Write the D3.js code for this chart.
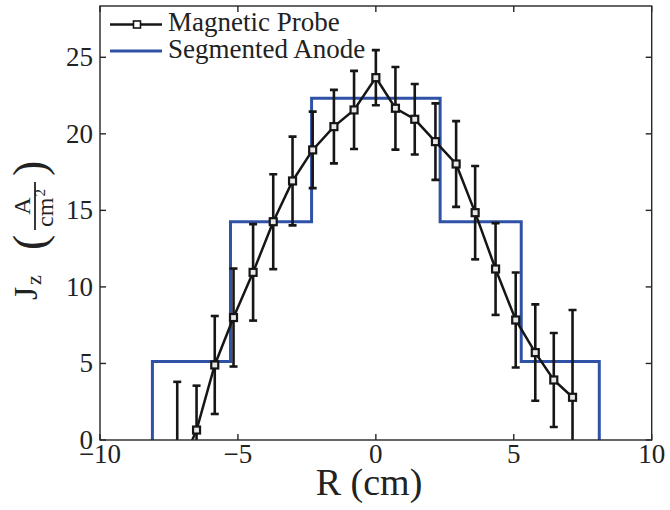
<!DOCTYPE html>
<html>
  <head>
    <meta charset="utf-8">
    <title>Jz profile</title>
    <script src="https://d3js.org/d3.v7.min.js"></script>
    <style>
      body { margin: 0; background: #fff; }
      text { font-family: "Liberation Serif", "DejaVu Serif", serif; fill: #222; }
    </style>
  </head>
  <body>
  <div id="chart"></div>
  <script>
    // magnetic probe readings
    var probeR = [-7.2, -6.5, -5.84, -5.16, -4.45, -3.72, -3.02, -2.29, -1.52, -0.79, 0,
                  0.71, 1.41, 2.16, 2.91, 3.6, 4.34, 5.07, 5.78, 6.45, 7.13];
    var probeJ = [-2.3, 0.65, 4.9, 8.0, 10.95, 14.26, 16.92, 18.95, 20.47, 21.56, 23.67,
                  21.67, 20.95, 19.49, 18.03, 14.85, 11.17, 7.84, 5.71, 3.92, 2.79];
    var probeErr = [6.1, 2.9, 3.2, 3.2, 3.15, 3.1, 2.9, 2.5, 2.4, 2.55, 1.8,
                    2.7, 2.3, 2.5, 2.8, 3.05, 3.0, 3.1, 3.15, 3.07, 5.7];

    // segmented anode: segment edges and level per segment
    var anodeEdges = [-8.1, -5.27, -2.33, 2.33, 5.27, 8.1];
    var anodeJ = [5.12, 14.26, 22.32, 14.26, 5.12];

    var xTicks = [-10, -5, 0, 5, 10];
    var yTicks = [0, 5, 10, 15, 20, 25];
    var legendLabels = ["Magnetic Probe", "Segmented Anode"];

    var W = 670, H = 510;
    var pl = 100, pr = 651.7, pt = 6, pb = 440;
    var blue = "#2f51a6";

    var svg = d3.select("#chart").append("svg")
                .attr("width", W).attr("height", H);

    var x = d3.scaleLinear().domain([-10, 10]).range([pl, pr]);
    var y = d3.scaleLinear().domain([0, 28.35]).range([pb, pt]);

    svg.append("clipPath").attr("id", "clip")
       .append("rect")
         .attr("x", pl).attr("y", pt)
         .attr("width", pr - pl).attr("height", pb - pt);

    var plot = svg.append("g").attr("clip-path", "url(#clip)");

    // anode step line
    var steps = [[anodeEdges[0], 0]];
    anodeJ.forEach(function (v, i) {
      steps.push([anodeEdges[i], v]);
      steps.push([anodeEdges[i + 1], v]);
    });
    steps.push([anodeEdges[anodeEdges.length - 1], 0]);
    plot.append("path")
        .attr("d", d3.line().x(function (d) { return x(d[0]); }).y(function (d) { return y(d[1]); })(steps))
        .attr("fill", "none")
        .attr("stroke", blue)
        .attr("stroke-width", 3);

    // probe error bars
    var probe = probeR.map(function (r, i) { return {r: r, j: probeJ[i], e: probeErr[i]}; });
    var bars = plot.append("g").attr("stroke", "#161616").attr("stroke-width", 2.6);
    probe.forEach(function (d) {
      var px = x(d.r), y0 = y(d.j - d.e), y1 = y(d.j + d.e);
      bars.append("line").attr("x1", px).attr("x2", px).attr("y1", y0).attr("y2", y1);
      bars.append("line").attr("x1", px - 4).attr("x2", px + 4).attr("y1", y0).attr("y2", y0);
      bars.append("line").attr("x1", px - 4).attr("x2", px + 4).attr("y1", y1).attr("y2", y1);
    });

    plot.append("path")
        .attr("d", d3.line().x(function (d) { return x(d.r); }).y(function (d) { return y(d.j); })(probe))
        .attr("fill", "none")
        .attr("stroke", "#161616")
        .attr("stroke-width", 2.5);

    plot.selectAll("rect.mk").data(probe).enter().append("rect")
        .attr("class", "mk")
        .attr("x", function (d) { return x(d.r) - 3.5; })
        .attr("y", function (d) { return y(d.j) - 3.5; })
        .attr("width", 7).attr("height", 7)
        .attr("fill", "#e8e8e8")
        .attr("stroke", "#161616")
        .attr("stroke-width", 2.2);

    // axes box with inward ticks on all sides
    var axes = svg.append("g").attr("stroke", "#262626").attr("stroke-width", 1.4);
    axes.append("rect")
        .attr("x", pl).attr("y", pt)
        .attr("width", pr - pl).attr("height", pb - pt)
        .attr("fill", "none");
    xTicks.forEach(function (t) {
      axes.append("line").attr("x1", x(t)).attr("x2", x(t)).attr("y1", pb).attr("y2", pb - 6);
      axes.append("line").attr("x1", x(t)).attr("x2", x(t)).attr("y1", pt).attr("y2", pt + 6);
    });
    yTicks.forEach(function (t) {
      axes.append("line").attr("x1", pl).attr("x2", pl + 6).attr("y1", y(t)).attr("y2", y(t));
      axes.append("line").attr("x1", pr).attr("x2", pr - 6).attr("y1", y(t)).attr("y2", y(t));
    });

    svg.selectAll("text.xt").data(xTicks).enter().append("text")
       .attr("class", "xt")
       .attr("x", function (d) { return x(d); })
       .attr("y", 463)
       .attr("text-anchor", "middle")
       .style("font-size", "27px")
       .text(function (d) { return d < 0 ? "\u2212" + Math.abs(d) : d; });

    svg.selectAll("text.yt").data(yTicks).enter().append("text")
       .attr("class", "yt")
       .attr("x", 93)
       .attr("y", function (d) { return y(d) + 9; })
       .attr("text-anchor", "end")
       .style("font-size", "27px")
       .text(function (d) { return d; });

    // x label
    svg.append("text")
       .attr("x", 369).attr("y", 495)
       .attr("text-anchor", "middle")
       .style("font-size", "38px")
       .text("R (cm)");

    // y label: J_z (A / cm^2), rotated
    var yl = svg.append("g").attr("transform", "translate(37, 300) rotate(-90)");
    yl.append("text").attr("x", 0).attr("y", 0).style("font-size", "34px").text("J");
    yl.append("text").attr("x", 15).attr("y", 4).style("font-size", "22px").text("z");
    yl.append("text").attr("x", 50).attr("y", 8).style("font-size", "46px").text("(");
    yl.append("text").attr("x", 124).attr("y", 8).style("font-size", "46px").text(")");
    yl.append("line").attr("x1", 70).attr("x2", 118).attr("y1", -2).attr("y2", -2)
      .attr("stroke", "#222").attr("stroke-width", 1.8);
    yl.append("text").attr("x", 94).attr("y", -7).attr("text-anchor", "middle")
      .style("font-size", "24px").text("A");
    var den = yl.append("text").attr("x", 92).attr("y", 16).attr("text-anchor", "middle")
      .style("font-size", "24px");
    den.append("tspan").text("cm");
    den.append("tspan").attr("dy", -8).attr("dx", 1).style("font-size", "15px").text("2");

    // legend
    var lg = svg.append("g");
    lg.append("line").attr("x1", 110).attr("x2", 162).attr("y1", 24.5).attr("y2", 24.5)
      .attr("stroke", "#161616").attr("stroke-width", 2.5);
    lg.append("rect").attr("x", 133.5).attr("y", 21).attr("width", 7).attr("height", 7)
      .attr("fill", "#fff").attr("stroke", "#161616").attr("stroke-width", 1.6);
    lg.append("line").attr("x1", 110).attr("x2", 162).attr("y1", 51).attr("y2", 51)
      .attr("stroke", blue).attr("stroke-width", 3);
    lg.selectAll("text").data(legendLabels).enter().append("text")
      .attr("x", 168)
      .attr("y", function (d, i) { return 31 + i * 27; })
      .style("font-size", "27px")
      .text(function (d) { return d; });
  </script>
  </body>
</html>
